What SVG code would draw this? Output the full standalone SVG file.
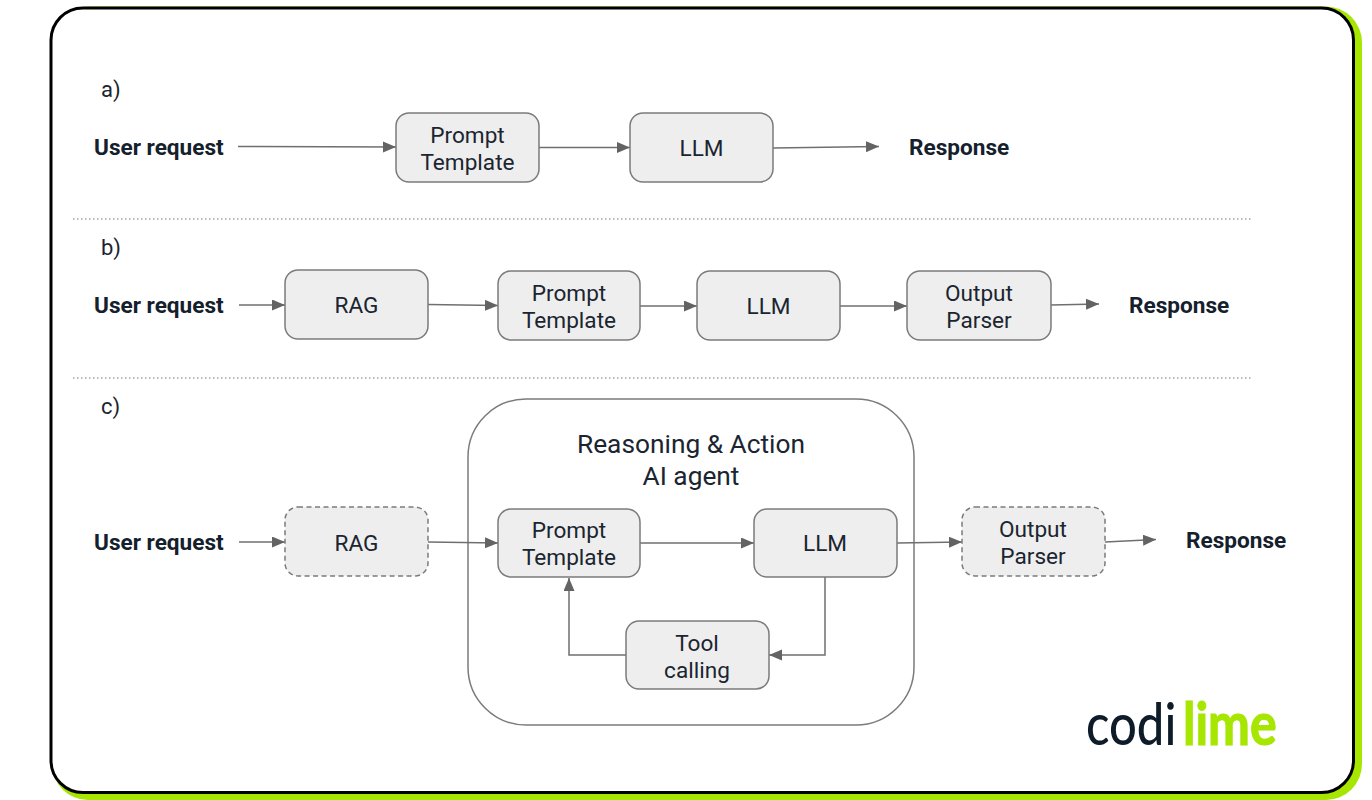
<svg xmlns="http://www.w3.org/2000/svg" width="1372" height="800" viewBox="0 0 1372 800">
<style>
text{font-family:Roboto,"Liberation Sans",sans-serif;fill:#1b2530}
.l{font-size:22.600px;text-anchor:middle}
.t{font-size:26.300px;text-anchor:middle}
.b{font-size:22.600px;font-weight:700;fill:#14202c}
.n rect{fill:#eeeeee;stroke:#7b7b7b;stroke-width:1.5}
.d rect{stroke-dasharray:5 3.5}
.c path{fill:none;stroke:#6f6f6f;stroke-width:1.5}
.s{stroke:#777;stroke-width:1;stroke-dasharray:1.5 2.5;fill:none}
</style>
<defs><marker id="a" markerUnits="userSpaceOnUse" markerWidth="14" markerHeight="12" refX="13" refY="5.5" orient="auto"><path d="M0 0L13 5.500L0 11Z" fill="#636363"/></marker></defs>
<rect width="1372" height="800" fill="#fff"/>
<g id="frame">
<rect x="52" y="6.500" width="1310" height="793.500" rx="36" fill="#a6e600"/>
<rect x="51" y="8" width="1302.500" height="784.500" rx="32" fill="#fff" stroke="#000" stroke-width="3"/>
</g>
<g id="separators"><path class="s" d="M73 219H1251"/><path class="s" d="M73 378H1251"/></g>
<g id="labels">
<text x="101" y="97" font-size="22">a)</text>
<text x="101" y="255" font-size="22">b)</text>
<text x="101" y="414" font-size="22">c)</text>
<text class="b" x="94" y="154.500">User request</text>
<text class="b" x="909" y="154.500">Response</text>
<text class="b" x="94" y="312.500">User request</text>
<text class="b" x="1129" y="312.500">Response</text>
<text class="b" x="94" y="549.500">User request</text>
<text class="b" x="1186" y="548">Response</text>
</g>
<g id="agent"><rect x="468" y="399" width="446" height="326" rx="58" fill="#fff" stroke="#7b7b7b" stroke-width="1.5"/>
<text class="t" x="691" y="453">Reasoning &amp; Action</text>
<text class="t" x="691" y="485">AI agent</text></g>
<g class="c" id="connectors">
<path marker-end="url(#a)" d="M238 146.500L396 147"/>
<path marker-end="url(#a)" d="M539 147.500H630"/>
<path marker-end="url(#a)" d="M773 148L879 146.500"/>
<path marker-end="url(#a)" d="M239 305H285"/>
<path marker-end="url(#a)" d="M428 304.500L498 305.500"/>
<path marker-end="url(#a)" d="M640 306H697"/>
<path marker-end="url(#a)" d="M840 306H907"/>
<path marker-end="url(#a)" d="M1051 305L1099 304"/>
<path marker-end="url(#a)" d="M239 542H285"/>
<path marker-end="url(#a)" d="M428 542L498 543"/>
<path marker-end="url(#a)" d="M640 543H754"/>
<path marker-end="url(#a)" d="M897 543L962 542"/>
<path marker-end="url(#a)" d="M1105 542L1156 539.500"/>
<path marker-end="url(#a)" d="M825 577V655H769"/>
<path marker-end="url(#a)" d="M626 655H569V578"/>
</g>
<g class="n" id="a-prompt"><rect x="396" y="113" width="143" height="69" rx="13"/><text class="l" x="467.500" y="142.500">Prompt</text><text class="l" x="467.500" y="169.500">Template</text></g>
<g class="n" id="a-llm"><rect x="630" y="113" width="143" height="69" rx="13"/><text class="l" x="701.500" y="155.500">LLM</text></g>
<g class="n" id="b-rag"><rect x="285" y="270" width="143" height="69" rx="13"/><text class="l" x="356.500" y="312.500">RAG</text></g>
<g class="n" id="b-prompt"><rect x="498" y="271" width="142" height="69" rx="13"/><text class="l" x="569" y="300.500">Prompt</text><text class="l" x="569" y="327.500">Template</text></g>
<g class="n" id="b-llm"><rect x="697" y="271" width="143" height="69" rx="13"/><text class="l" x="768.500" y="313.500">LLM</text></g>
<g class="n" id="b-parser"><rect x="907" y="271" width="144" height="69" rx="13"/><text class="l" x="979" y="300.500">Output</text><text class="l" x="979" y="327.500">Parser</text></g>
<g class="n d" id="c-rag"><rect x="285" y="507" width="143" height="69" rx="13"/><text class="l" x="356.500" y="550.500">RAG</text></g>
<g class="n" id="c-prompt"><rect x="498" y="509" width="142" height="68" rx="13"/><text class="l" x="569" y="537.500">Prompt</text><text class="l" x="569" y="564.500">Template</text></g>
<g class="n" id="c-llm"><rect x="754" y="509" width="143" height="68" rx="13"/><text class="l" x="825" y="550.500">LLM</text></g>
<g class="n d" id="c-parser"><rect x="962" y="507" width="143" height="69" rx="13"/><text class="l" x="1033" y="536.500">Output</text><text class="l" x="1033" y="563.500">Parser</text></g>
<g class="n" id="c-tool"><rect x="626" y="621" width="143" height="68" rx="13"/><text class="l" x="697" y="650.500">Tool</text><text class="l" x="697" y="677.500">calling</text></g>
<g id="logo"><text transform="translate(1086 745) scale(1 1.2)" style="font-family:Lato,sans-serif;font-size:49px;font-weight:500;fill:#0e1c2a">codi</text><text transform="translate(1183 745) scale(1 1.2)" style="font-family:Lato,sans-serif;font-size:50px;font-weight:700;fill:#a6e600;stroke:#a6e600;stroke-width:1">lime</text></g>
</svg>
